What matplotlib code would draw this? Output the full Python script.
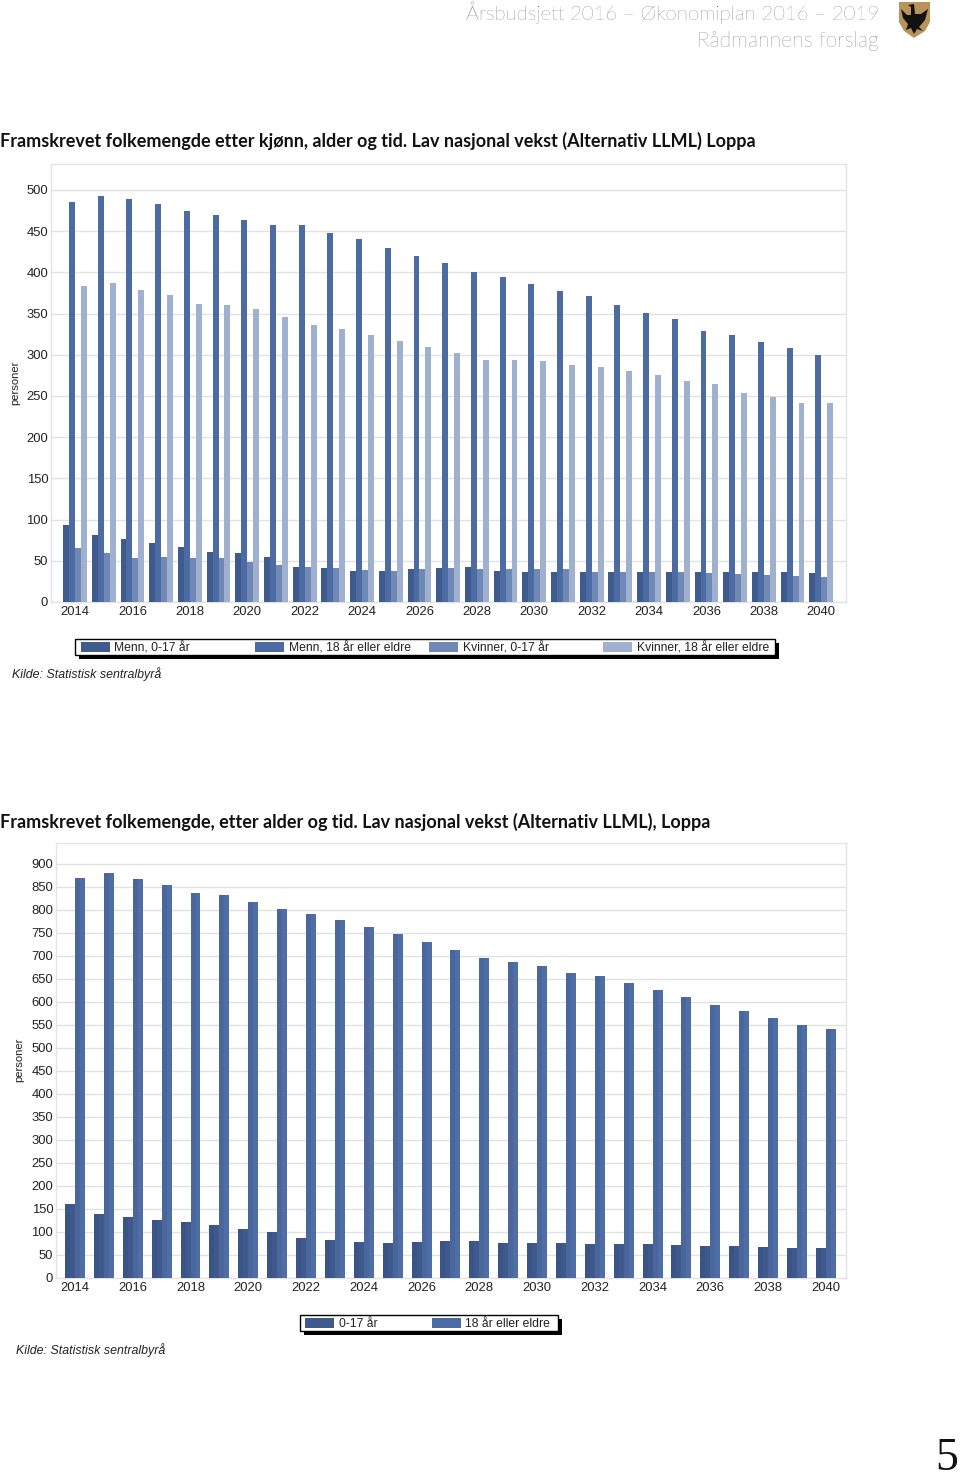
import matplotlib
matplotlib.use('Agg')
import matplotlib.pyplot as plt
import numpy as np
from matplotlib.patches import Rectangle, Polygon

W, H = 960, 1481

years = list(range(2014, 2041))
tick_years = years[::2]

menn_ung = [94, 81, 77, 71, 67, 61, 59, 55, 43, 41, 38, 38, 40, 41, 42, 38, 37, 37, 37, 37, 37, 37, 37, 37, 37, 37, 35]
menn_eldre = [485, 493, 489, 483, 474, 470, 463, 458, 457, 448, 440, 429, 420, 411, 401, 394, 386, 377, 371, 361, 351, 343, 329, 324, 316, 308, 300]
kvinner_ung = [66, 60, 53, 55, 53, 53, 49, 45, 42, 41, 39, 38, 40, 41, 40, 40, 40, 40, 37, 37, 37, 37, 35, 34, 33, 32, 30]
kvinner_eldre = [384, 387, 379, 372, 362, 361, 355, 346, 336, 331, 324, 317, 310, 302, 294, 294, 293, 287, 285, 280, 275, 268, 264, 254, 249, 242, 242]

alle_ung = [160, 140, 133, 127, 122, 115, 107, 100, 87, 83, 78, 77, 79, 81, 81, 77, 77, 77, 74, 73, 73, 72, 70, 70, 68, 66, 65]
alle_eldre = [869, 880, 868, 855, 836, 832, 818, 803, 791, 778, 763, 748, 731, 713, 696, 688, 679, 664, 657, 642, 627, 610, 593, 580, 566, 551, 542]

fig = plt.figure(figsize=(W / 100, H / 100), dpi=100, facecolor='white')


def px_axes(left, top, right, bottom):
    return fig.add_axes([left / W, 1 - bottom / H, (right - left) / W, (bottom - top) / H])


def fx(x):
    return x / W


def fy(y):
    return 1 - y / H


def shaded_bars(ax, pos, vals, width, dark, light):
    # left half a bit darker in the lower chart
    ax.bar(pos, vals, width, color=light, linewidth=0, zorder=3)
    ax.bar(pos - width / 4, vals, width / 2, color=dark, linewidth=0, zorder=4)


def setup(ax, xlim, ylim, yticks):
    ax.set_xlim(*xlim)
    ax.set_ylim(*ylim)
    ax.set_yticks(yticks)
    ax.set_xticks(np.arange(0, 27, 2))
    ax.set_xticklabels(tick_years, family='Liberation Sans', fontsize=9.4, color='#222222')
    ax.tick_params(length=0)
    ax.tick_params(axis='x', pad=3)
    ax.tick_params(axis='y', pad=2, labelsize=9.4, labelcolor='#222222')
    for lab in ax.get_yticklabels():
        lab.set_family('Liberation Sans')
    ax.grid(axis='y', color='#e2e2e2', linewidth=1, zorder=0)
    ax.set_axisbelow(True)
    for s in ax.spines.values():
        s.set_color('#e4e4e4')
        s.set_linewidth(1)


def legend_box(left, top, right, bottom, items):
    fig.add_artist(Rectangle((fx(left + 4), fy(bottom + 4)), (right - left) / W, (bottom - top) / H,
                             transform=fig.transFigure, facecolor='black', edgecolor='black', linewidth=0))
    fig.add_artist(Rectangle((fx(left), fy(bottom)), (right - left) / W, (bottom - top) / H,
                             transform=fig.transFigure, facecolor='white', edgecolor='black', linewidth=1))
    for sx, tx, label, col in items:
        fig.add_artist(Rectangle((fx(sx), fy(bottom - 3)), 29 / W, (bottom - top - 6) / H,
                                 transform=fig.transFigure, facecolor=col, linewidth=0))
        fig.text(fx(tx), fy((top + bottom) / 2 + 1), label, family='Liberation Sans', fontsize=8.75,
                 color='#222222', va='center', ha='left')


c_dark = '#3f5a8c'
c_mid = '#4c6ba3'
c_lav = '#6f88b6'
c_lys = '#a0b0cf'
c_dark2 = ('#3a5485', '#40598d')
c_mid2 = ('#4a679d', '#4f6ea6')

# header
fig.text(fx(879), fy(13), 'Årsbudsjett 2016 – Økonomiplan 2016 – 2019', family='Lato', weight='light',
         fontsize=14.7, color='#3c3c3c', ha='right', va='center')
fig.text(fx(879), fy(41), 'Rådmannens forslag', family='Lato', weight='light',
         fontsize=15.2, color='#3c3c3c', ha='right', va='center')

# crest
fig.add_artist(Polygon([(fx(899), fy(2)), (fx(930), fy(2)), (fx(930), fy(22)), (fx(925), fy(31)),
                        (fx(914), fy(38)), (fx(904), fy(31)), (fx(899), fy(22))],
                       transform=fig.transFigure, facecolor='#b8935a', linewidth=0))
fig.add_artist(Polygon([(fx(901), fy(9)), (fx(907), fy(15)), (fx(911), fy(15)), (fx(911), fy(7)),
                        (fx(908), fy(5)), (fx(914), fy(4)), (fx(915), fy(14)), (fx(921), fy(14)),
                        (fx(928), fy(9)), (fx(925), fy(20)), (fx(919), fy(27)), (fx(923), fy(31)),
                        (fx(917), fy(29)), (fx(914), fy(34)), (fx(911), fy(28)), (fx(906), fy(30)),
                        (fx(908), fy(24)), (fx(903), fy(18))],
                       transform=fig.transFigure, facecolor='#111111', linewidth=0))

# chart 1
fig.text(0, fy(141), 'Framskrevet folkemengde etter kjønn, alder og tid. Lav nasjonal vekst (Alternativ LLML) Loppa',
         family='Lato', weight='bold', fontsize=12.97, color='#111111', ha='left', va='center')

ax1 = px_axes(51, 164, 846, 602)
setup(ax1, (-0.836, 26.86), (0, 531.5), np.arange(0, 501, 50))
x = np.arange(len(years))
w1 = 0.207
ax1.bar(x - 1.5 * w1, menn_ung, w1, color=c_dark, linewidth=0, zorder=3)
ax1.bar(x - 0.5 * w1, menn_eldre, w1, color=c_mid, linewidth=0, zorder=3)
ax1.bar(x + 0.5 * w1, kvinner_ung, w1, color=c_lav, linewidth=0, zorder=3)
ax1.bar(x + 1.5 * w1, kvinner_eldre, w1, color=c_lys, linewidth=0, zorder=3)
fig.text(fx(15), fy(383), 'personer', family='Liberation Sans', fontsize=8.1, rotation=90,
         color='#222222', ha='center', va='center')

legend_box(75, 639, 775, 655, [
    (81, 114, 'Menn, 0-17 år', c_dark),
    (255, 289, 'Menn, 18 år eller eldre', c_mid),
    (429, 463, 'Kvinner, 0-17 år', c_lav),
    (603, 637, 'Kvinner, 18 år eller eldre', c_lys),
])
fig.text(fx(12), fy(674), 'Kilde: Statistisk sentralbyrå', family='Liberation Sans', style='italic',
         fontsize=8.9, color='#222222', ha='left', va='center')

# chart 2
fig.text(0, fy(822), 'Framskrevet folkemengde, etter alder og tid. Lav nasjonal vekst (Alternativ LLML), Loppa',
         family='Lato', weight='bold', fontsize=12.97, color='#111111', ha='left', va='center')

ax2 = px_axes(56, 843, 846, 1278)
setup(ax2, (-0.658, 26.7), (0, 945.6), np.arange(0, 901, 50))
w2 = 0.346
shaded_bars(ax2, x - 0.5 * w2, alle_ung, w2, *c_dark2)
shaded_bars(ax2, x + 0.5 * w2, alle_eldre, w2, *c_mid2)
fig.text(fx(19), fy(1060), 'personer', family='Liberation Sans', fontsize=8.1, rotation=90,
         color='#222222', ha='center', va='center')

legend_box(300, 1315, 558, 1331, [
    (305, 339, '0-17 år', c_dark),
    (432, 465, '18 år eller eldre', c_mid),
])
fig.text(fx(16), fy(1350), 'Kilde: Statistisk sentralbyrå', family='Liberation Sans', style='italic',
         fontsize=8.9, color='#222222', ha='left', va='center')

# page number
fig.text(fx(958), fy(1470), '5', family='Liberation Serif', fontsize=33, color='#111111', ha='right', va='baseline')

fig.savefig('out.png', dpi=100)
